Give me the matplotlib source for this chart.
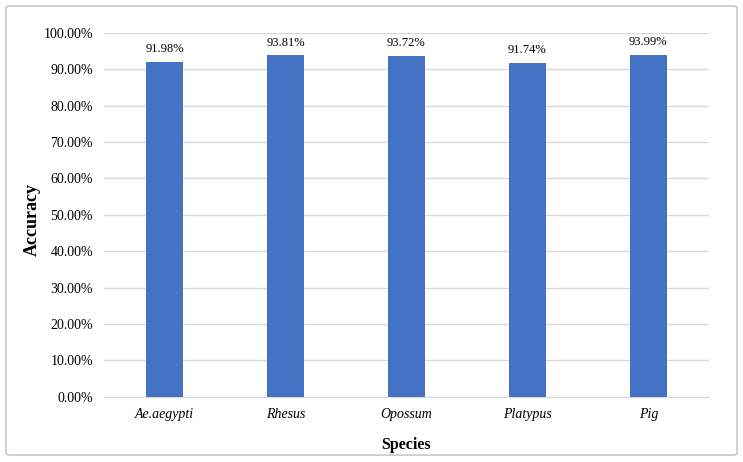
import matplotlib.pyplot as plt
from matplotlib.patches import FancyBboxPatch
import numpy as np

species = ['Ae.aegypti', 'Rhesus', 'Opossum', 'Platypus', 'Pig']
accuracy = [91.98, 93.81, 93.72, 91.74, 93.99]
yticks = np.arange(0, 101, 10)

plt.rcParams['font.family'] = ['Liberation Serif', 'DejaVu Serif']

fig = plt.figure(figsize=(7.43, 4.62), dpi=100)
ax = fig.add_axes([0.140, 0.141, 0.814, 0.788])

# outer chart border
fig.patches.append(FancyBboxPatch((0.008, 0.015), 0.984, 0.972,
                                  boxstyle='round,pad=0,rounding_size=0.005',
                                  transform=fig.transFigure, fill=False,
                                  edgecolor='#c8c8c8', linewidth=1.2))

x = np.arange(len(species))
bars = ax.bar(x, accuracy, width=0.31, color='#4472C4', zorder=3)

for xi, v in zip(x, accuracy):
    ax.text(xi, v + 1.8, f'{v:.2f}%', ha='center', va='bottom', fontsize=9)

ax.set_xlim(-0.5, len(species) - 0.5)
ax.set_ylim(0, 100)
ax.set_yticks(yticks)
ax.set_yticklabels([f'{t:.2f}%' for t in yticks], fontsize=10)
ax.set_xticks(x)
ax.set_xticklabels(species, fontsize=10, style='italic')

ax.grid(axis='y', color='#d9d9d9', linewidth=1, zorder=0)
for s in ['top', 'right', 'left']:
    ax.spines[s].set_visible(False)
ax.spines['bottom'].set_color('#d9d9d9')
ax.tick_params(length=0, pad=8)

ax.set_xlabel('Species', fontsize=11.5, fontweight='bold')
ax.set_ylabel('Accuracy', fontsize=13, fontweight='bold')
ax.xaxis.set_label_coords(0.5, -0.11)
ax.yaxis.set_label_coords(-0.104, 0.486)

fig.savefig('out.png', dpi=100)
